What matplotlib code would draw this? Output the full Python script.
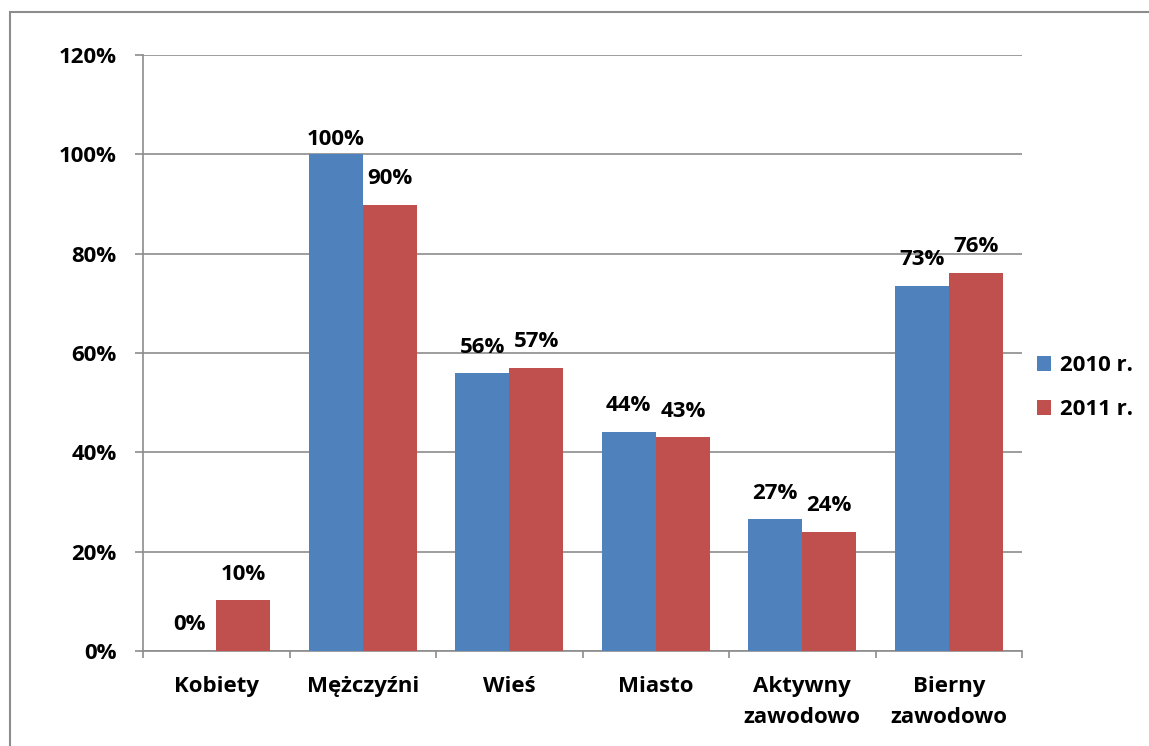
import matplotlib
matplotlib.use("Agg")
import matplotlib.pyplot as plt
import numpy as np
from matplotlib.patches import Rectangle

categories = ["Kobiety", "Mężczyźni", "Wieś", "Miasto", "Aktywny\nzawodowo", "Bierny\nzawodowo"]
v2010 = [0, 100, 55.9, 44.1, 26.5, 73.5]
v2011 = [10.2, 89.8, 57.0, 43.0, 23.9, 76.1]
lab2010 = ["0%", "100%", "56%", "44%", "27%", "73%"]
lab2011 = ["10%", "90%", "57%", "43%", "24%", "76%"]
series_names = ["2010 r.", "2011 r."]
yticks = [0, 20, 40, 60, 80, 100, 120]

plt.rcParams['font.family'] = ['Open Sans', 'DejaVu Sans']
plt.rcParams['font.weight'] = 'bold'
FS = 16

W, H = 1149, 746
fig = plt.figure(figsize=(W/100, H/100), dpi=100)
fig.patch.set_facecolor('white')
ax = fig.add_axes([143/W, 1-651/H, (1022-143)/W, (651-55)/H])

blue = '#4F81BD'
red = '#C0504D'
x = np.arange(len(categories))
w = 0.37
b1 = ax.bar(x - w/2, v2010, w, color=blue, label=series_names[0], zorder=3)
b2 = ax.bar(x + w/2, v2011, w, color=red, label=series_names[1], zorder=3)

def lab_y(v):
    return min(v + 5.3, 103.0)

for xi, v, t in zip(x, v2010, lab2010):
    ax.text(xi - w/2, lab_y(v), t, ha='center', va='center', fontsize=FS, fontweight='bold', zorder=4)
for xi, v, t in zip(x, v2011, lab2011):
    ax.text(xi + w/2, lab_y(v), t, ha='center', va='center', fontsize=FS, fontweight='bold', zorder=4)

ax.set_xlim(-0.5, len(categories) - 0.5)
ax.set_ylim(0, 120)
ax.set_yticks(yticks)
ax.set_yticklabels([f"{t}%" for t in yticks], fontsize=FS, fontweight='bold')
ax.yaxis.grid(True, color='#8c8c8c', linewidth=1.2, zorder=0)
ax.set_axisbelow(True)

ax.set_xticks(x)
ax.set_xticklabels(categories, fontsize=FS, fontweight='bold', linespacing=1.6)
ax.tick_params(axis='x', which='major', length=0, pad=18)
ax.set_xticks(np.arange(-0.5, len(categories), 1.0), minor=True)
ax.tick_params(axis='x', which='minor', length=5, color='#8c8c8c', width=1.2)
ax.tick_params(axis='y', length=6, color='#8c8c8c', width=1.2, pad=13)

for s in ['top', 'right']:
    ax.spines[s].set_visible(False)
for s in ['left', 'bottom']:
    ax.spines[s].set_color('#8c8c8c')
    ax.spines[s].set_linewidth(1.2)

leg = fig.legend(handles=[b1, b2], labels=series_names, loc='upper left',
                 bbox_to_anchor=(1017/W, 1-335/H), frameon=False,
                 fontsize=FS, handlelength=0.65, handleheight=0.65,
                 handletextpad=0.4, labelspacing=1.05)
for t in leg.get_texts():
    t.set_fontweight('bold')

fig.patches.append(Rectangle((10/W, -0.1), 1.2, 1 - 12/H + 0.1, transform=fig.transFigure,
                             fill=False, edgecolor='#8c8c8c', linewidth=1.5))

fig.savefig('out.png', dpi=100)
